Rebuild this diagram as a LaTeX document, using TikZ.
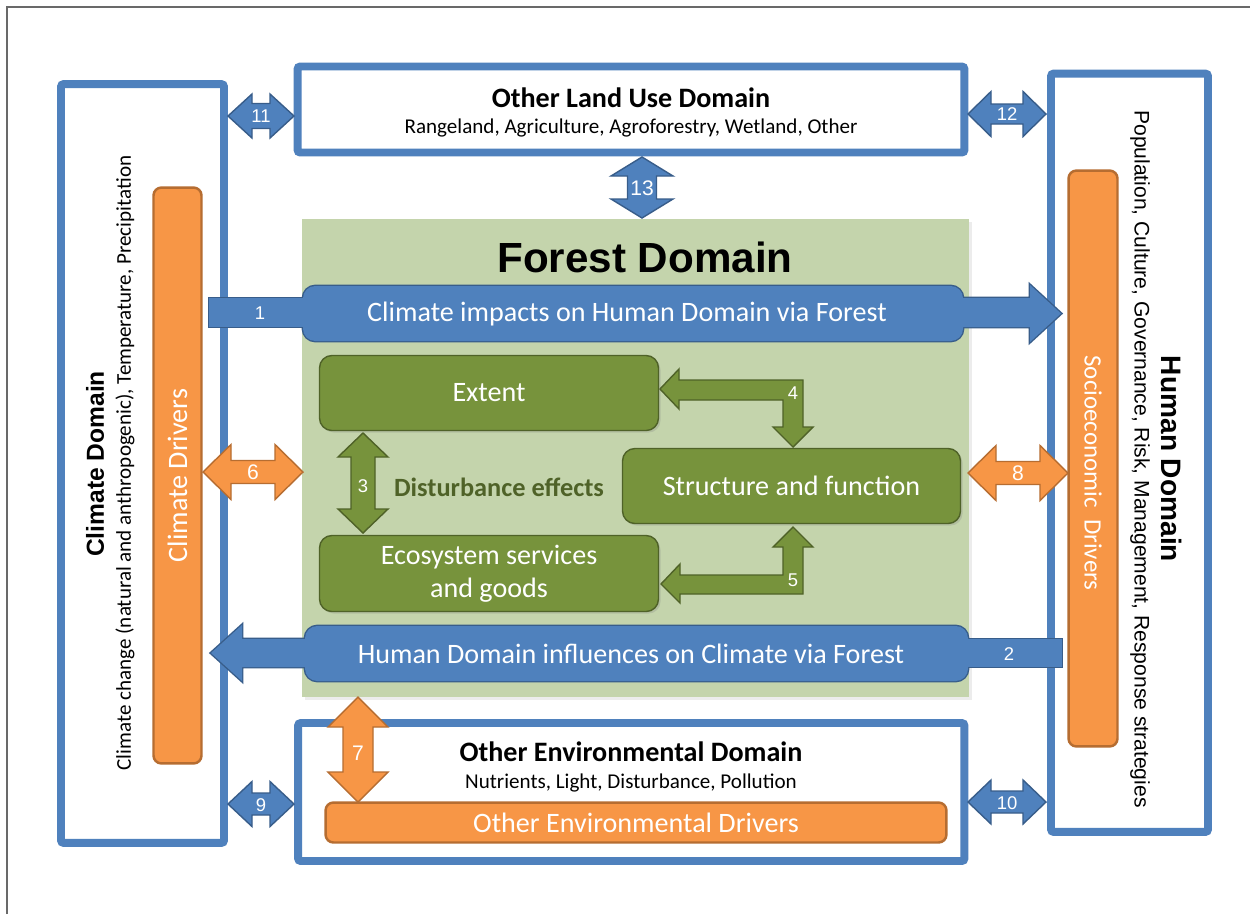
\documentclass[tikz,border=0pt]{standalone}
\usepackage{fontspec}
\setmainfont{Carlito}
\newfontfamily\arialfont{Liberation Sans}
\usetikzlibrary{calc, shadows}
\definecolor{domblue}{RGB}{79,129,189}
\definecolor{arrline}{RGB}{56,93,138}
\definecolor{orgfill}{RGB}{247,150,70}
\definecolor{orgline}{RGB}{182,109,49}
\definecolor{grnfill}{RGB}{119,147,60}
\definecolor{grnline}{RGB}{79,98,40}
\definecolor{forestbg}{RGB}{196,212,172}
\definecolor{framegray}{RGB}{105,105,105}
% horizontal and vertical block arrows with two heads
% {style}{tip 1}{tip 2}{axis}{half shaft}{half head}{head length}
\newcommand{\hdarrow}[7]{\draw[#1] (#2,#4) -- ({#2+#7},{#4-#6}) -- ({#2+#7},{#4-#5}) -- ({#3-#7},{#4-#5}) -- ({#3-#7},{#4-#6}) -- (#3,#4) -- ({#3-#7},{#4+#6}) -- ({#3-#7},{#4+#5}) -- ({#2+#7},{#4+#5}) -- ({#2+#7},{#4+#6}) -- cycle;}
\newcommand{\vdarrow}[7]{\draw[#1] (#4,#2) -- ({#4+#6},{#2+#7}) -- ({#4+#5},{#2+#7}) -- ({#4+#5},{#3-#7}) -- ({#4+#6},{#3-#7}) -- (#4,#3) -- ({#4-#6},{#3-#7}) -- ({#4-#5},{#3-#7}) -- ({#4-#5},{#2+#7}) -- ({#4-#6},{#2+#7}) -- cycle;}
% the two long arrows through the forest (drawn twice: edge, then fill)
\newcommand{\impactarrow}[1]{%
  \path[#1] (209,298) rectangle (310,327);
  \path[#1, rounded corners=7pt] (303,286) rectangle (963,341);
  \path[#1] (955,298) -- (1030,298) -- (1030,285) -- (1061,313.5) -- (1030,342) -- (1030,327) -- (955,327) -- cycle;}
\newcommand{\influencearrow}[1]{%
  \path[#1] (960,639) rectangle (1062,667);
  \path[#1, rounded corners=7pt] (305,626) rectangle (968,681);
  \path[#1] (315,639) -- (242,639) -- (242,625) -- (211,653) -- (242,681) -- (242,667) -- (315,667) -- cycle;}
\tikzset{
  domainbox/.style={draw=domblue, line width=4.5pt, rounded corners=1.5pt, fill=white, inner sep=0pt},
  driver/.style={draw=orgline, fill=orgfill, line width=1.4pt, rounded corners=4.5pt, inner sep=0pt, text=white, font=\fontsize{16}{19}\selectfont},
  forestbox/.style={draw=grnline, fill=grnfill, line width=0.8pt, rounded corners=7pt, inner sep=0pt, text=white, align=center, font=\fontsize{16}{19}\selectfont, drop shadow={shadow xshift=1.2pt, shadow yshift=-1.2pt, opacity=0.25}},
  domtitle/.style={font=\bfseries\fontsize{16}{19}\selectfont},
  domsub/.style={font=\fontsize{12}{14}\selectfont},
  sidetitle/.style={font=\arialfont\bfseries\fontsize{16}{19}\selectfont},
  numlbl/.style={text=white, inner sep=0pt, font=\arialfont\fontsize{10.5}{12}\selectfont},
  biglbl/.style={numlbl, font=\arialfont\fontsize{12}{14}\selectfont},
  blockblue/.style={fill=domblue, draw=arrline, line width=0.8pt},
  blockorange/.style={fill=orgfill, draw=orgline, line width=0.8pt},
  blockgreen/.style={fill=grnfill, draw=grnline, line width=0.8pt},
  longedge/.style={draw=arrline, line width=1.6pt},
  longfill/.style={fill=domblue}
}
\begin{document}
\begin{tikzpicture}[x=0.02cm, y=-0.02cm]

  \fill[white] (0,0) rectangle (1250,914);
  \useasboundingbox (0,0) rectangle (1250,914);
  \draw[framegray, line width=1.1pt] (7,914) -- (7,7) -- (1250,7);

  % forest background
  \node[fill=forestbg, minimum width=13.34cm, minimum height=9.56cm, inner sep=0pt, drop shadow={shadow xshift=1.5pt, shadow yshift=-1.5pt, opacity=0.15}] (forest) at (635.5,458) {};
  \node[font=\arialfont\bfseries\fontsize{24}{28}\selectfont] (foresttitle) at (645,257) {Forest Domain};

  % the four outer domains
  \node[domainbox, minimum width=3.26cm, minimum height=15.18cm] (climate) at (142.5,463.5) {};
  \node[domainbox, minimum width=13.34cm, minimum height=1.72cm] (landuse) at (631,109.5) {};
  \node[domainbox, minimum width=3.14cm, minimum height=15.17cm] (human) at (1129.5,452.75) {};
  \node[domainbox, minimum width=13.33cm, minimum height=2.76cm] (environ) at (631.25,792) {};

  \node[domtitle] (landtitle) at (631,98) {Other Land Use Domain};
  \node[domsub] (landsub) at (631,128) {Rangeland, Agriculture, Agroforestry, Wetland, Other};
  \node[domtitle] (envtitle) at (631,752) {Other Environmental Domain};
  \node[domsub] (envsub) at (631,783) {Nutrients, Light, Disturbance, Pollution};
  \node[sidetitle, rotate=90, font=\arialfont\bfseries\fontsize{14}{17}\selectfont] (climtitle) at (95,464) {Climate Domain};
  \node[domsub, rotate=90] (climsub) at (125,463) {Climate change (natural and anthropogenic), Temperature, Precipitation};
  \node[sidetitle, rotate=-90] (humtitle) at (1172,459) {Human Domain};
  \node[rotate=-90, font=\arialfont\fontsize{12}{14}\selectfont] (humsub) at (1140,459) {Population, Culture, Governance, Risk, Management, Response strategies};

  % drivers
  \node[driver, rotate=90, minimum width=11.52cm, minimum height=0.96cm] (climdrv) at (177.5,475.5) {Climate Drivers};
  \node[driver, rotate=-90, minimum width=11.52cm, minimum height=0.98cm] (sociodrv) at (1093,458.5) {};
  \node[rotate=-90, text=white, font=\fontsize{14.2}{17}\selectfont] (sociolbl) at (1093,473) {Socioeconomic~~Drivers};
  \node[driver, minimum width=12.42cm, minimum height=0.8cm] (envdrv) at (636,822.5) {Other Environmental Drivers};

  % links between domains
  \hdarrow{blockblue}{228}{294}{116}{12.5}{22}{24}
  \hdarrow{blockblue}{968}{1046}{114}{10}{22.5}{23}
  \hdarrow{blockblue}{228}{294}{804}{11}{22.5}{24}
  \hdarrow{blockblue}{968}{1046}{802}{11}{22}{23}
  \vdarrow{blockblue}{157}{218}{642}{14.5}{31}{19}
  \hdarrow{blockorange}{203}{303}{472}{11.5}{27.5}{28}
  \hdarrow{blockorange}{968}{1068}{473}{11.5}{27.5}{28}
  \vdarrow{blockorange}{697}{802}{358}{15}{30}{30}

  \impactarrow{longedge}
  \impactarrow{longfill}
  \influencearrow{longedge}
  \influencearrow{longfill}
  \node[text=white, font=\fontsize{16}{19}\selectfont] (impact) at (627,314) {Climate impacts on Human Domain via Forest};
  \node[text=white, font=\fontsize{16}{19}\selectfont] (influence) at (631,654) {Human Domain influences on Climate via Forest};

  % inside the forest
  \node[forestbox, minimum width=6.78cm, minimum height=1.5cm] (extent) at (489,393) {Extent};
  \node[forestbox, minimum width=6.78cm, minimum height=1.52cm] (ecosys) at (489,573.5) {Ecosystem services\\and goods};
  \node[forestbox, minimum width=6.76cm, minimum height=1.5cm] (struct) at (791.5,486) {Structure and function};
  \node[text=grnline, font=\bfseries\fontsize{15}{18}\selectfont] (disturb) at (499,487) {Disturbance effects};

  \vdarrow{blockgreen}{433}{533}{363}{12}{25}{24}
  \draw[blockgreen] (660,389) -- (679,369) -- (679,380) -- (803,380) -- (803,427) -- (813,427) -- (793,447) -- (773,427) -- (783,427) -- (783,400) -- (679,400) -- (679,409) -- cycle;
  \draw[blockgreen] (661,584) -- (680,564) -- (680,575) -- (783,575) -- (783,547) -- (773,547) -- (793,527) -- (813,547) -- (803,547) -- (803,594) -- (680,594) -- (680,603) -- cycle;

  % numbers
  \node[numlbl] (n1) at (260,313) {1};
  \node[numlbl] (n2) at (1009,654) {2};
  \node[numlbl] (n3) at (363,486) {3};
  \node[numlbl] (n4) at (793,393) {4};
  \node[numlbl] (n5) at (793,580) {5};
  \node[biglbl] (n6) at (253,472) {6};
  \node[biglbl] (n7) at (358,753) {7};
  \node[biglbl] (n8) at (1018,473) {8};
  \node[numlbl] (n9) at (261,805) {9};
  \node[numlbl] (n10) at (1007,803) {10};
  \node[numlbl] (n11) at (261,116) {11};
  \node[numlbl] (n12) at (1007,114) {12};
  \node[biglbl] (n13) at (642,188) {13};

\end{tikzpicture}
\end{document}
